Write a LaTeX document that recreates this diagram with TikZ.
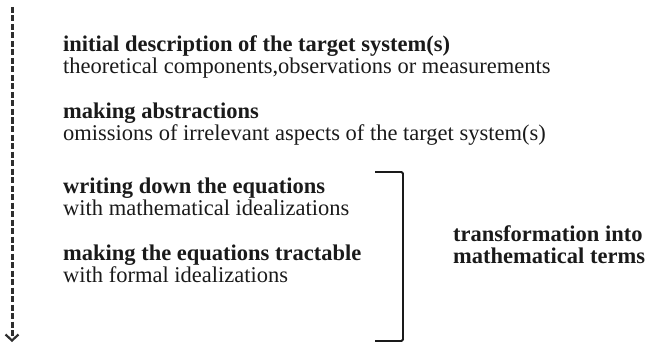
\documentclass[tikz,border=0pt]{standalone}
\usepackage{fontspec}
\setmainfont{Liberation Serif}
\usetikzlibrary{arrows.meta}
\definecolor{ink}{HTML}{1A1A1A}
\definecolor{flow}{HTML}{2E2E2E}

\begin{document}
\begin{tikzpicture}[x=1pt, y=1pt]

\useasboundingbox (0, 0) rectangle (647, 354);

% Process arrow
\coordinate (flowtop) at (12, 347);
\coordinate (flowend) at (12, 12);
\draw[color=flow, line width=3pt, dash pattern=on 6pt off 2.5pt,
  -{Straight Barb[length=6pt, width=13pt, line width=2.2pt]}] (flowtop) -- (flowend);

% Steps
\node[anchor=base west, inner sep=0, font=\fontsize{22.5}{24}\selectfont\bfseries, color=ink] (initb) at (63, 302) {initial description of the target system(s)};
\node[anchor=base west, inner sep=0, font=\fontsize{22.5}{24}\selectfont, color=ink] (initr) at (63, 280) {theoretical components,observations or measurements};

\node[anchor=base west, inner sep=0, font=\fontsize{22.5}{24}\selectfont\bfseries, color=ink] (abstb) at (63, 236) {making abstractions};
\node[anchor=base west, inner sep=0, font=\fontsize{22.5}{24}\selectfont, color=ink] (abstr) at (63, 214) {omissions of irrelevant aspects of the target system(s)};

\node[anchor=base west, inner sep=0, font=\fontsize{22.5}{24}\selectfont\bfseries, color=ink] (eqnb) at (63, 161) {writing down the equations};
\node[anchor=base west, inner sep=0, font=\fontsize{22.5}{24}\selectfont, color=ink] (eqnr) at (63, 139) {with mathematical idealizations};

\node[anchor=base west, inner sep=0, font=\fontsize{22.5}{24}\selectfont\bfseries, color=ink] (tractb) at (63, 94) {making the equations tractable};
\node[anchor=base west, inner sep=0, font=\fontsize{22.5}{24}\selectfont, color=ink] (tractr) at (63, 72) {with formal idealizations};

% Bracket
\coordinate (brtop) at (375, 182);
\coordinate (brbot) at (375, 13);
\draw[color=ink, line width=1.8pt, rounded corners=1.5pt] (brtop) -| (403, 13) -- (brbot);

% Bracket label
\node[anchor=base west, inner sep=0, font=\fontsize{22.5}{24}\selectfont\bfseries, color=ink] (transa) at (453, 113) {transformation into};
\node[anchor=base west, inner sep=0, font=\fontsize{22.5}{24}\selectfont\bfseries, color=ink] (transb) at (453, 91) {mathematical terms};

\end{tikzpicture}
\end{document}
